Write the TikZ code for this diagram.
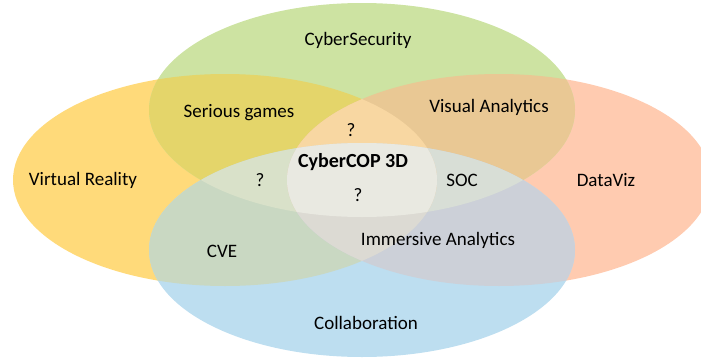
\documentclass[tikz,border=0pt]{standalone}
\usepackage{fontspec}
\setmainfont{Carlito}
\usepackage{xcolor}
\definecolor{vyellow}{HTML}{FFDA7A}
\definecolor{vsalmon}{HTML}{FFCBB0}
\definecolor{vgreen}{HTML}{CDE3A2}
\definecolor{vblue}{HTML}{BDDEF0}
\definecolor{vyg}{HTML}{E4D56A}
\definecolor{vyb}{HTML}{C9D8C2}
\definecolor{vsg}{HTML}{E9C894}
\definecolor{vsb}{HTML}{CCD0D8}
\definecolor{vygb}{HTML}{D9E1C9}
\definecolor{vsgb}{HTML}{D8DED6}
\definecolor{vysg}{HTML}{F8D7A2}
\definecolor{vysb}{HTML}{DCDAD3}
\definecolor{vall}{HTML}{E9E9E1}
\def\vryellow{(225,180) ellipse [x radius=212pt, y radius=106pt]}
\def\vrsalmon{(499,180) ellipse [x radius=212pt, y radius=106pt]}
\def\vrgreen{(362,250) ellipse [x radius=213pt, y radius=107pt]}
\def\vrblue{(362,110) ellipse [x radius=213pt, y radius=107pt]}
\tikzset{
	lbl/.style={font=\fontsize{19}{22}\selectfont, text=black, inner sep=0pt},
}

\begin{document}
\begin{tikzpicture}[x=1pt, y=1pt]
		\useasboundingbox (0,0) rectangle (701,360);
		\clip (0,0) rectangle (701,360);
		% the four sets
		\fill[vyellow] \vryellow;
		\fill[vsalmon] \vrsalmon;
		\fill[vgreen] \vrgreen;
		\fill[vblue] \vrblue;
		% two at a time
		\begin{scope} \clip \vryellow; \fill[vyg] \vrgreen; \end{scope}
		\begin{scope} \clip \vryellow; \fill[vyb] \vrblue; \end{scope}
		\begin{scope} \clip \vrsalmon; \fill[vsg] \vrgreen; \end{scope}
		\begin{scope} \clip \vrsalmon; \fill[vsb] \vrblue; \end{scope}
		% three at a time
		\begin{scope} \clip \vryellow; \clip \vrgreen; \fill[vygb] \vrblue; \end{scope}
		\begin{scope} \clip \vrsalmon; \clip \vrgreen; \fill[vsgb] \vrblue; \end{scope}
		\begin{scope} \clip \vryellow; \clip \vrsalmon; \fill[vysg] \vrgreen; \end{scope}
		\begin{scope} \clip \vryellow; \clip \vrsalmon; \fill[vysb] \vrblue; \end{scope}
		% all four
		\begin{scope} \clip \vryellow; \clip \vrsalmon; \clip \vrgreen; \fill[vall] \vrblue; \end{scope}
		% labels
		\node[lbl] (cybersec) at (358,320) {CyberSecurity};
		\node[lbl] (vreality) at (83,180) {Virtual Reality};
		\node[lbl] (dataviz) at (606,180) {DataViz};
		\node[lbl] (collab) at (366,37) {Collaboration};
		\node[lbl] (sgames) at (239,247) {Serious games};
		\node[lbl] (vanalytics) at (489,253) {Visual Analytics};
		\node[lbl] (cve) at (222,109) {CVE};
		\node[lbl] (ianalytics) at (438,120) {Immersive Analytics};
		\node[lbl] (soc) at (462,180) {SOC};
		\node[lbl, font=\fontsize{20}{22}\selectfont\bfseries] (cybercop) at (353,198) {CyberCOP 3D};
		\node[lbl] (qtop) at (351,230) {?};
		\node[lbl] (qleft) at (260,180) {?};
		\node[lbl] (qmid) at (358,165) {?};
	\end{tikzpicture}
\end{document}
